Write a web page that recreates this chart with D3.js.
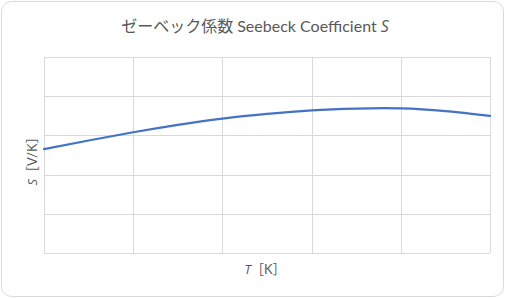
<!DOCTYPE html>
<html>
<head>
<meta charset="utf-8">
<script src="https://cdn.jsdelivr.net/npm/d3@7"></script>
<style>
  body { margin: 0; background: #fff; }
  text { font-family: Lato, "Noto Sans CJK JP", sans-serif; fill: #595959; }
  .it { font-family: "Open Sans", "Noto Sans", sans-serif; font-style: italic; }
</style>
</head>
<body>
<div id="chart"></div>
<script>
// values (gridlines are 1 unit apart, no tick labels shown)
var tValues = [0, 0.5, 1, 1.5, 2, 2.5, 3, 3.5, 4, 4.5, 5]
var sValues = [2.65, 2.87, 3.08, 3.27, 3.43, 3.55, 3.64, 3.685, 3.69, 3.62, 3.50]
var xTicks = [0, 1, 2, 3, 4, 5]
var yTicks = [0, 1, 2, 3, 4, 5]

var W = 505, H = 298
var margin = {top: 57, right: 15, bottom: 45, left: 44}
var width = 490 - margin.left,
    height = 253 - margin.top

var svg = d3.select("#chart").append("svg")
    .attr("width", W)
    .attr("height", H)

// outer frame
svg.append("rect")
    .attr("x", 1.5).attr("y", 1.5)
    .attr("width", W - 3).attr("height", H - 3)
    .attr("rx", 10).attr("ry", 10)
    .attr("fill", "#fff")
    .attr("stroke", "#d9d9d9")
    .attr("stroke-width", 1)

var g = svg.append("g")
    .attr("transform", `translate(${margin.left},${margin.top})`)

var x = d3.scaleLinear().domain([0, 5]).range([0, width])
var y = d3.scaleLinear().domain([0, 5]).range([height, 0])

// gridlines via axes with full-length ticks
g.append("g")
    .attr("class", "grid")
    .attr("transform", `translate(0,${height})`)
    .call(d3.axisBottom(x).tickValues(xTicks).tickSize(-height).tickFormat(""))
g.append("g")
    .attr("class", "grid")
    .call(d3.axisLeft(y).tickValues(yTicks).tickSize(-width).tickFormat(""))

g.selectAll(".grid .domain").remove()
g.selectAll(".grid line")
    .attr("stroke", "#d9d9d9")
    .attr("stroke-width", 1)
    .attr("shape-rendering", "crispEdges")

var line = d3.line()
    .x((d, i) => x(tValues[i]))
    .y(d => y(d))
    .curve(d3.curveNatural)

g.append("path")
    .datum(sValues)
    .attr("fill", "none")
    .attr("stroke", "#4472c4")
    .attr("stroke-width", 2.25)
    .attr("stroke-linecap", "round")
    .attr("d", line)

// title
var title = svg.append("text")
    .attr("x", 255)
    .attr("y", 32)
    .attr("text-anchor", "middle")
    .style("font-size", "16px")
title.append("tspan").text("ゼーベック係数 Seebeck Coefficient ")
title.append("tspan").attr("class", "it").text("S")

// axis titles
var yt = svg.append("text")
    .attr("transform", `translate(37,${margin.top + height / 2 + 3}) rotate(-90)`)
    .attr("text-anchor", "middle")
    .style("font-size", "13px")
yt.append("tspan").attr("class", "it").text("S")
yt.append("tspan").text("［V/K］")

var xt = svg.append("text")
    .attr("x", 265)
    .attr("y", 274)
    .attr("text-anchor", "middle")
    .style("font-size", "13px")
xt.append("tspan").attr("class", "it").text("T")
xt.append("tspan").text("［K］")
</script>
</body>
</html>
